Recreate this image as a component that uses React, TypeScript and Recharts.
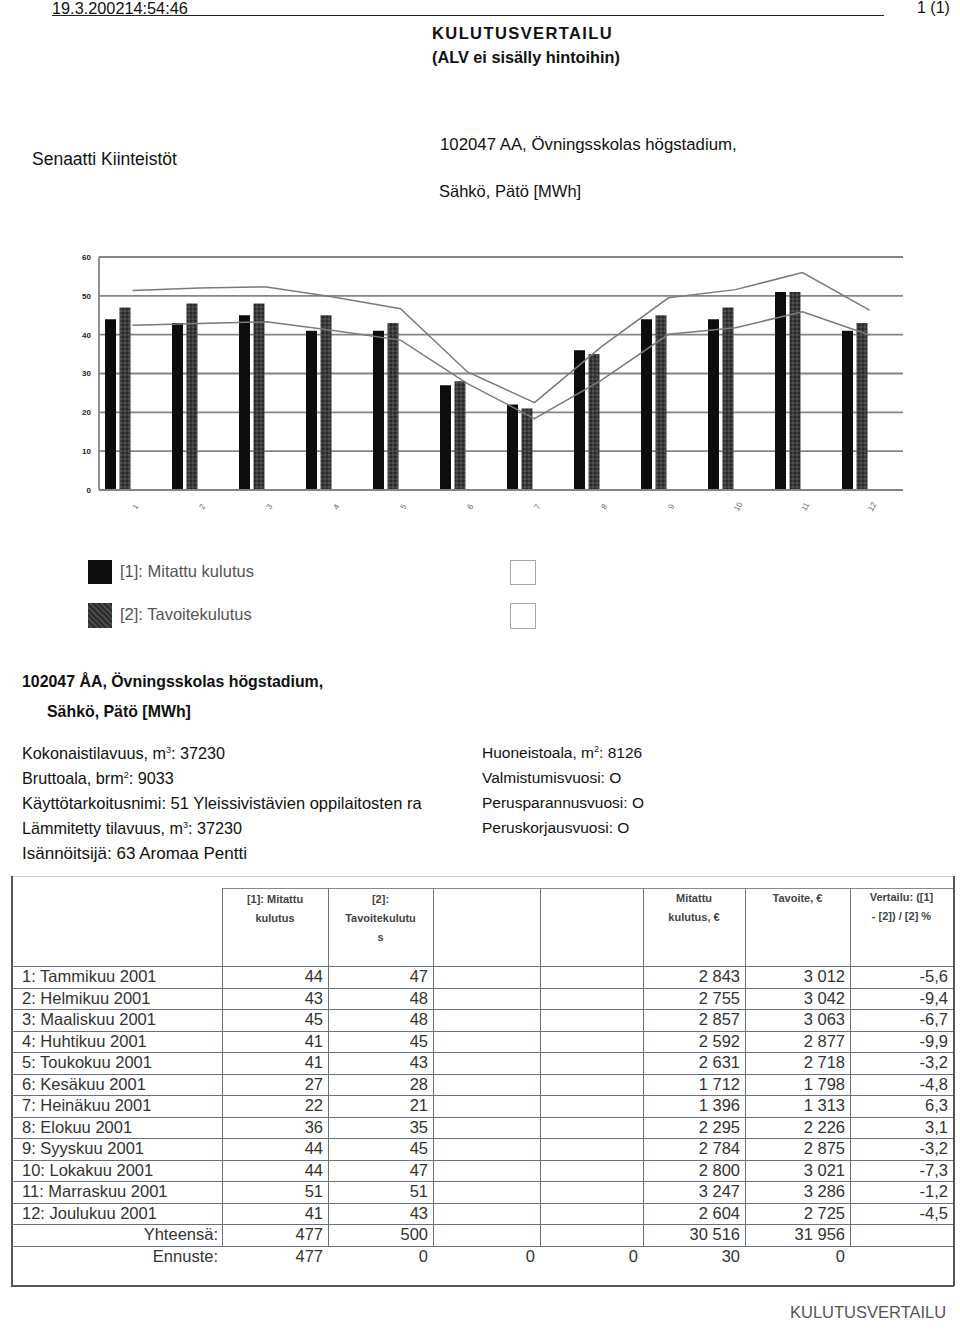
import React from 'react';
import { ComposedChart, Bar, Line, XAxis, YAxis, CartesianGrid } from 'recharts';

const months = ['1', '2', '3', '4', '5', '6', '7', '8', '9', '10', '11', '12'];
const measured = [44, 43, 45, 41, 41, 27, 22, 36, 44, 44, 51, 41];
const target = [47, 48, 48, 45, 43, 28, 21, 35, 45, 47, 51, 43];
const upperLine = [51.4, 52, 52.3, 49.7, 46.7, 30.4, 22.5, 36.9, 49.5, 51.6, 56, 46.3];
const lowerLine = [42.4, 42.9, 43.3, 41.1, 38.6, 27.4, 18.4, 28.3, 40.1, 41.8, 45.9, 39.9];
const yTicks = [0, 10, 20, 30, 40, 50, 60];

const monthNames = [
  '1: Tammikuu 2001', '2: Helmikuu 2001', '3: Maaliskuu 2001', '4: Huhtikuu 2001',
  '5: Toukokuu 2001', '6: Kesäkuu 2001', '7: Heinäkuu 2001', '8: Elokuu 2001',
  '9: Syyskuu 2001', '10: Lokakuu 2001', '11: Marraskuu 2001', '12: Joulukuu 2001',
];
const costMeasured = ['2 843', '2 755', '2 857', '2 592', '2 631', '1 712', '1 396', '2 295', '2 784', '2 800', '3 247', '2 604'];
const costTarget = ['3 012', '3 042', '3 063', '2 877', '2 718', '1 798', '1 313', '2 226', '2 875', '3 021', '3 286', '2 725'];
const diffPct = ['-5,6', '-9,4', '-6,7', '-9,9', '-3,2', '-4,8', '6,3', '3,1', '-3,2', '-7,3', '-1,2', '-4,5'];
const totals = ['477', '500', '', '', '30 516', '31 956', ''];
const forecast = ['477', '0', '0', '0', '30', '0', ''];

const chartData = months.map((m, i) => ({
  m,
  measured: measured[i],
  target: target[i],
  empty1: null,
  empty2: null,
  upper: upperLine[i],
  lower: lowerLine[i],
}));

const colX = [12, 222, 328, 433, 540, 643, 745, 850, 953];
const rowTop0 = 966;
const rowH = 21.5;

const XTick = (props: any) => {
  const { x, y, payload } = props;
  return (
    <g transform={`translate(${x + 5},${y + 10})`}>
      <text transform="rotate(-60)" textAnchor="middle" fontSize={8} fill="#666">{payload.value}</text>
    </g>
  );
};

const FONT = '"Liberation Sans", Arial, sans-serif';

function Abs(props: { x: number; y: number; children: React.ReactNode; style?: React.CSSProperties }) {
  return (
    <div style={{ position: 'absolute', left: props.x, top: props.y, whiteSpace: 'nowrap', ...props.style }}>{props.children}</div>
  );
}

function HLine({ x1, x2, y, color = '#666', w = 1 }: { x1: number; x2: number; y: number; color?: string; w?: number }) {
  return <div style={{ position: 'absolute', left: x1, top: y, width: x2 - x1, height: w, background: color }} />;
}
function VLine({ y1, y2, x, color = '#666', w = 1 }: { y1: number; y2: number; x: number; color?: string; w?: number }) {
  return <div style={{ position: 'absolute', left: x, top: y1, width: w, height: y2 - y1, background: color }} />;
}

function Cell({ c, r, text, align }: { c: number; r: number; text: string; align: 'left' | 'right' }) {
  const x1 = colX[c];
  const x2 = colX[c + 1];
  return (
    <div
      style={{
        position: 'absolute',
        left: x1,
        top: rowTop0 + r * rowH,
        width: x2 - x1,
        height: rowH,
        lineHeight: `${rowH}px`,
        fontSize: 16.5,
        color: '#333',
        textAlign: align,
        boxSizing: 'border-box',
        paddingLeft: align === 'left' ? 10 : 0,
        paddingRight: align === 'right' ? 5 : 0,
        whiteSpace: 'nowrap',
        overflow: 'hidden',
      }}
    >
      {text}
    </div>
  );
}

export default function App() {
  const infoL: React.CSSProperties = { fontSize: 16.2, color: '#111' };
  const infoR: React.CSSProperties = { fontSize: 15.5, color: '#111' };
  const headerCellStyle: React.CSSProperties = {
    fontSize: 11,
    fontWeight: 'bold',
    color: '#444',
    textAlign: 'center',
    lineHeight: '19px',
  };
  const rows = [];
  for (let i = 0; i < 12; i++) {
    rows.push(<Cell key={`n${i}`} c={0} r={i} text={monthNames[i]} align="left" />);
    rows.push(<Cell key={`a${i}`} c={1} r={i} text={String(measured[i])} align="right" />);
    rows.push(<Cell key={`b${i}`} c={2} r={i} text={String(target[i])} align="right" />);
    rows.push(<Cell key={`c${i}`} c={5} r={i} text={costMeasured[i]} align="right" />);
    rows.push(<Cell key={`d${i}`} c={6} r={i} text={costTarget[i]} align="right" />);
    rows.push(<Cell key={`e${i}`} c={7} r={i} text={diffPct[i]} align="right" />);
  }
  totals.forEach((t, j) => {
    if (t) rows.push(<Cell key={`t${j}`} c={j + 1} r={12} text={t} align="right" />);
  });
  forecast.forEach((t, j) => {
    if (t) rows.push(<Cell key={`f${j}`} c={j + 1} r={13} text={t} align="right" />);
  });

  const tableBottomRow = rowTop0 + 13 * rowH;

  return (
    <div
      style={{
        position: 'absolute',
        left: 0,
        top: 0,
        width: 960,
        height: 1335,
        background: '#fff',
        fontFamily: FONT,
        color: '#111',
        overflow: 'hidden',
      }}
    >
      {/* page header */}
      <Abs x={52} y={0} style={{ fontSize: 16.3, lineHeight: '16px' }}>19.3.200214:54:46</Abs>
      <HLine x1={52} x2={884} y={15} color="#222" />
      <Abs x={917} y={0} style={{ fontSize: 16, lineHeight: '16px' }}>1 (1)</Abs>
      <Abs x={432} y={24} style={{ fontSize: 16.5, fontWeight: 'bold', letterSpacing: 1.4 }}>KULUTUSVERTAILU</Abs>
      <Abs x={432} y={48} style={{ fontSize: 16.3, fontWeight: 'bold' }}>(ALV ei sisälly hintoihin)</Abs>

      <Abs x={32} y={149} style={{ fontSize: 17.5 }}>Senaatti Kiinteistöt</Abs>
      <Abs x={440} y={135} style={{ fontSize: 16.8 }}>102047 AA, Övningsskolas högstadium,</Abs>
      <Abs x={439} y={182} style={{ fontSize: 16.5 }}>Sähkö, Pätö [MWh]</Abs>

      {/* chart */}
      <div style={{ position: 'absolute', left: 50, top: 240 }}>
        <ComposedChart
          width={870}
          height={280}
          data={chartData}
          margin={{ top: 17, right: 17, left: 19, bottom: 0 }}
          barSize={11}
          barGap={3.5}
        >
          <defs>
            <pattern id="tex" width="4" height="4" patternUnits="userSpaceOnUse">
              <rect width="4" height="4" fill="#3c3c3c" />
              <rect x="0" y="0" width="2" height="2" fill="#2a2a2a" />
              <rect x="2" y="2" width="2" height="2" fill="#505050" />
            </pattern>
          </defs>
          <CartesianGrid vertical={false} stroke="#858585" strokeWidth={1.8} />
          <XAxis
            dataKey="m"
            height={30}
            axisLine={{ stroke: '#858585', strokeWidth: 1.8 }}
            tickLine={false}
            interval={0}
            tick={<XTick />}
          />
          <YAxis
            width={30}
            domain={[0, 60]}
            ticks={yTicks}
            axisLine={{ stroke: '#858585', strokeWidth: 1.8 }}
            tickLine={false}
            tick={{ fontSize: 8, fill: '#222', fontWeight: 'bold' }}
          />
          <YAxis
            yAxisId="r"
            orientation="right"
            width={0}
            domain={[0, 60]}
            ticks={yTicks}
            tick={false}
            tickLine={false}
            axisLine={{ stroke: '#858585', strokeWidth: 1.8 }}
          />
          <Bar dataKey="measured" fill="#0d0d0d" isAnimationActive={false} />
          <Bar dataKey="target" fill="url(#tex)" isAnimationActive={false} />
          <Bar dataKey="empty1" fill="#ffffff" isAnimationActive={false} />
          <Bar dataKey="empty2" fill="#ffffff" isAnimationActive={false} />
          <Line type="linear" dataKey="upper" stroke="#7a7a7a" strokeWidth={1.5} dot={false} isAnimationActive={false} />
          <Line type="linear" dataKey="lower" stroke="#7a7a7a" strokeWidth={1.5} dot={false} isAnimationActive={false} />
        </ComposedChart>
      </div>

      {/* legend */}
      <div style={{ position: 'absolute', left: 88, top: 560, width: 24, height: 24, background: '#0d0d0d' }} />
      <Abs x={120} y={562} style={{ fontSize: 16.5, color: '#555' }}>[1]: Mitattu kulutus</Abs>
      <div
        style={{
          position: 'absolute', left: 88, top: 603, width: 24, height: 25,
          background: 'repeating-linear-gradient(45deg, #2c2c2c 0px, #2c2c2c 2px, #4a4a4a 2px, #4a4a4a 4px)',
        }}
      />
      <Abs x={120} y={605} style={{ fontSize: 16.5, color: '#555' }}>[2]: Tavoitekulutus</Abs>
      <div style={{ position: 'absolute', left: 510, top: 560, width: 26, height: 25, border: '1.5px solid #a0a8b4', boxSizing: 'border-box' }} />
      <div style={{ position: 'absolute', left: 510, top: 603, width: 26, height: 26, border: '1.5px solid #a0a8b4', boxSizing: 'border-box' }} />

      {/* info block */}
      <Abs x={22} y={673} style={{ fontSize: 15.9, fontWeight: 'bold' }}>102047 ÅA, Övningsskolas högstadium,</Abs>
      <Abs x={47} y={703} style={{ fontSize: 15.9, fontWeight: 'bold' }}>Sähkö, Pätö [MWh]</Abs>

      <Abs x={22} y={744} style={infoL}>Kokonaistilavuus, m<sup style={{ fontSize: 9 }}>3</sup>: 37230</Abs>
      <Abs x={22} y={769} style={infoL}>Bruttoala, brm<sup style={{ fontSize: 9 }}>2</sup>: 9033</Abs>
      <Abs x={22} y={794} style={{ ...infoL, fontSize: 16.5 }}>Käyttötarkoitusnimi: 51 Yleissivistävien oppilaitosten ra</Abs>
      <Abs x={22} y={819} style={infoL}>Lämmitetty tilavuus, m<sup style={{ fontSize: 9 }}>3</sup>: 37230</Abs>
      <Abs x={22} y={844} style={{ ...infoL, fontSize: 17 }}>Isännöitsijä: 63 Aromaa Pentti</Abs>

      <Abs x={482} y={744} style={infoR}>Huoneistoala, m<sup style={{ fontSize: 9 }}>2</sup>: 8126</Abs>
      <Abs x={482} y={769} style={infoR}>Valmistumisvuosi: O</Abs>
      <Abs x={482} y={794} style={infoR}>Perusparannusvuosi: O</Abs>
      <Abs x={482} y={819} style={infoR}>Peruskorjausvuosi: O</Abs>

      {/* table frame */}
      <HLine x1={11} x2={954} y={876} color="#c8ccd4" />
      <VLine x={11} y1={876} y2={1286} color="#555" w={1.5} />
      <VLine x={953} y1={876} y2={1286} color="#555" w={1.5} />
      <HLine x1={11} x2={954} y={1285} color="#555" w={1.5} />
      <HLine x1={222} x2={953} y={888} color="#888" />
      {colX.slice(1, 8).map((x) => (
        <VLine key={`hv${x}`} x={x} y1={888} y2={rowTop0} color="#777" />
      ))}
      {Array.from({ length: 14 }, (_, i) => (
        <HLine key={`rl${i}`} x1={12} x2={953} y={rowTop0 + i * rowH} color="#6a7080" />
      ))}
      {colX.slice(1, 8).map((x) => (
        <VLine key={`dv${x}`} x={x} y1={rowTop0} y2={tableBottomRow} color="#6a7080" />
      ))}

      {/* header cells */}
      <div style={{ position: 'absolute', left: 222, top: 890, width: 106, ...headerCellStyle }}>[1]: Mitattu<br />kulutus</div>
      <div style={{ position: 'absolute', left: 328, top: 890, width: 105, ...headerCellStyle }}>[2]:<br />Tavoitekulutu<br />s</div>
      <div style={{ position: 'absolute', left: 643, top: 889, width: 102, ...headerCellStyle }}>Mitattu<br />kulutus, €</div>
      <div style={{ position: 'absolute', left: 745, top: 889, width: 105, ...headerCellStyle }}>Tavoite, €</div>
      <div style={{ position: 'absolute', left: 850, top: 888, width: 103, ...headerCellStyle }}>Vertailu: ([1]<br />- [2]) / [2] %</div>

      {rows}
      <div
        style={{
          position: 'absolute', left: 12, top: rowTop0 + 12 * rowH, width: 206, height: rowH,
          lineHeight: `${rowH}px`, fontSize: 16.5, color: '#333', textAlign: 'right',
        }}
      >
        Yhteensä:
      </div>
      <div
        style={{
          position: 'absolute', left: 12, top: rowTop0 + 13 * rowH, width: 206, height: rowH,
          lineHeight: `${rowH}px`, fontSize: 16.5, color: '#333', textAlign: 'right',
        }}
      >
        Ennuste:
      </div>

      <Abs x={790} y={1303} style={{ fontSize: 16.5, color: '#555' }}>KULUTUSVERTAILU</Abs>
    </div>
  );
}
